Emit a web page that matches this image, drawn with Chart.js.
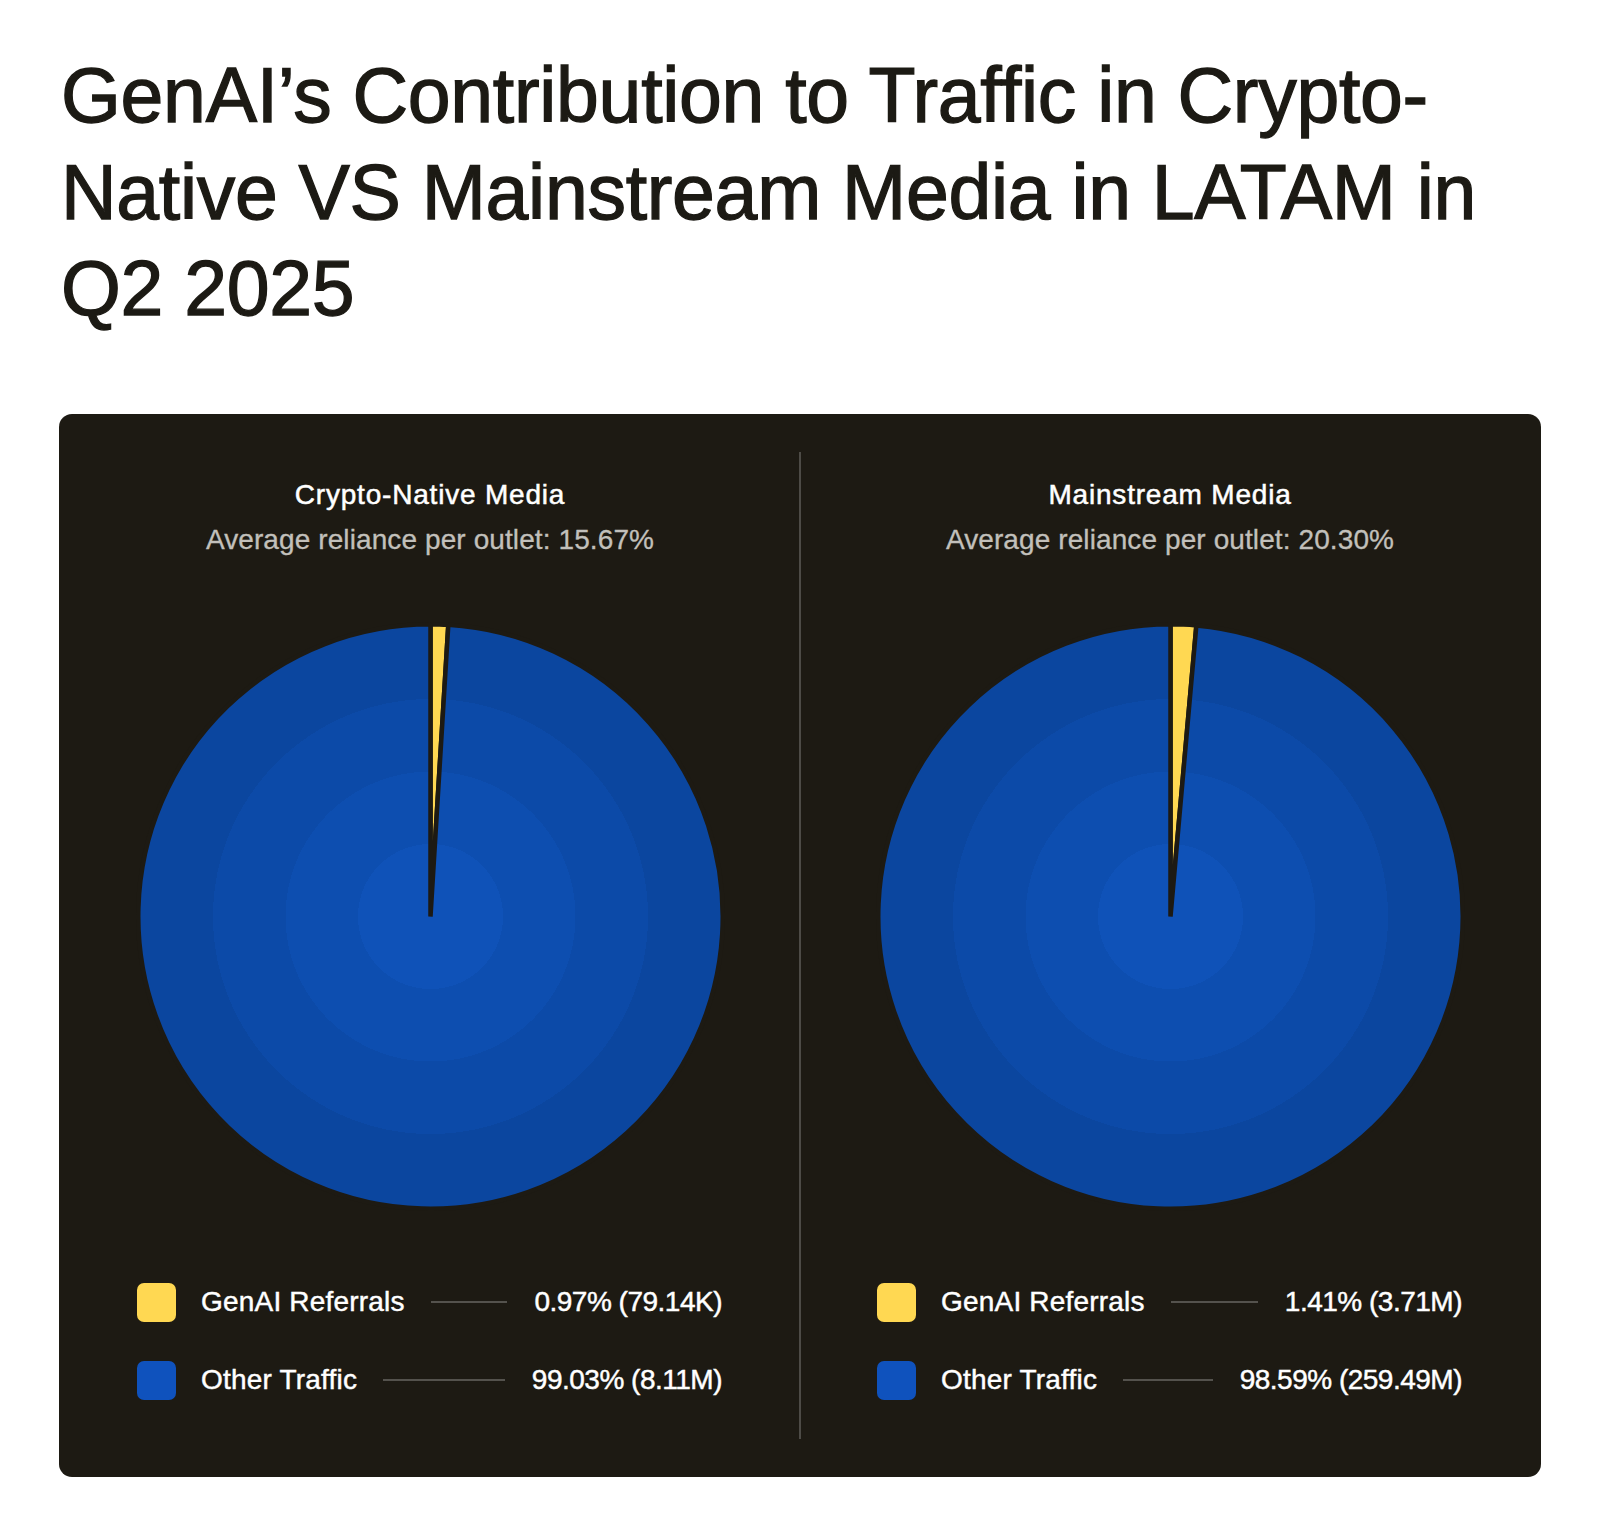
<!DOCTYPE html>
<html>
<head>
<meta charset="utf-8">
<script src="https://cdn.jsdelivr.net/npm/chart.js@4.4.1/dist/chart.umd.min.js"></script>
<style>
  html, body { margin: 0; padding: 0; background: #ffffff; }
  body { width: 1600px; height: 1529px; position: relative; overflow: hidden;
         font-family: "Liberation Sans", Arial, sans-serif; }
  #title { position: absolute; left: 61px; top: 47px; margin: 0; font-weight: 400;
           font-size: 77px; line-height: 96.5px; color: #1c1a14; letter-spacing: -0.3px; white-space: nowrap;
           -webkit-text-stroke: 1.3px #1c1a14; }
  .panel { position: absolute; left: 59px; top: 414px; width: 1482px; height: 1063px;
           background: #1d1a13; border-radius: 13px; }
  .divider { position: absolute; left: 799px; top: 452px; width: 2px; height: 987px; background: #4d4b46; }
  .ptitle { position: absolute; width: 700px; text-align: center; color: #ffffff; font-size: 28px;
            line-height: 34px; letter-spacing: 0.8px; -webkit-text-stroke: 0.5px #ffffff; white-space: nowrap; }
  .psub { position: absolute; width: 700px; text-align: center; color: #c2c0bb; font-size: 28px;
          line-height: 34px; white-space: nowrap; -webkit-text-stroke: 0.3px #c2c0bb; letter-spacing: 0.1px; }
  canvas.pie { position: absolute; }
  .lrow { position: absolute; height: 40px; display: flex; align-items: center; color: #ffffff;
          font-size: 28px; white-space: nowrap; -webkit-text-stroke: 0.45px #ffffff; }
  .sw { width: 39px; height: 39px; border-radius: 7px; flex: 0 0 auto; margin-right: 25px; }
  .lab { flex: 0 0 auto; letter-spacing: 0.2px; }
  .ln { flex: 1 1 auto; height: 2px; background: #54524d; margin: 0 27px 0 26px; }
  .val { flex: 0 0 auto; letter-spacing: -0.5px; }
</style>
</head>
<body>
<h1 id="title">GenAI’s Contribution to Traffic in Crypto-<br>Native VS Mainstream Media in LATAM in<br>Q2 2025</h1>
<div class="panel"></div>
<div class="divider"></div>
<div id="layer"></div>

<script>
// ---- data ----
const categories = ["GenAI Referrals", "Other Traffic"];
const panelTitles = ["Crypto-Native Media", "Mainstream Media"];
const avgReliance = [15.67, 20.30];
const cryptoShares = [0.97, 99.03];
const cryptoCounts = ["79.14K", "8.11M"];
const mainstreamShares = [1.41, 98.59];
const mainstreamCounts = ["3.71M", "259.49M"];

// ---- styles ----
const yellow = "#ffd852";
const swatchBlue = "#0f52bd";
const ringColors = ["#0f52b8", "#0d4eb0", "#0c4aa8", "#0b469f"]; // center -> outer
const panelBg = "#1d1a13";
const sliceBorder = 4.5;

const panels = [
  { title: panelTitles[0], avg: avgReliance[0], shares: cryptoShares, counts: cryptoCounts, cx: 430 },
  { title: panelTitles[1], avg: avgReliance[1], shares: mainstreamShares, counts: mainstreamCounts, cx: 1170 }
];
const cy = 916;
const visibleRadius = 290;
const canvasSize = Math.round(2 * visibleRadius + 2 * sliceBorder);

function ringGradient(chart) {
  const a = chart.chartArea;
  if (!a) return ringColors[3];
  const x = (a.left + a.right) / 2, y = (a.top + a.bottom) / 2;
  const r = (Math.min(a.right - a.left, a.bottom - a.top) - 2 * sliceBorder) / 2;
  const g = chart.ctx.createRadialGradient(x, y, 0, x, y, r);
  ringColors.forEach((c, i) => {
    g.addColorStop(i / 4, c);
    g.addColorStop((i + 1) / 4, c);
  });
  return g;
}

const layer = document.getElementById("layer");
panels.forEach(p => {
  const t = document.createElement("div");
  t.className = "ptitle"; t.textContent = p.title;
  t.style.left = (p.cx - 350) + "px"; t.style.top = "478px";
  layer.appendChild(t);
  const s = document.createElement("div");
  s.className = "psub"; s.textContent = "Average reliance per outlet: " + p.avg.toFixed(2) + "%";
  s.style.left = (p.cx - 350) + "px"; s.style.top = "523px";
  layer.appendChild(s);

  const cv = document.createElement("canvas");
  cv.className = "pie";
  cv.width = canvasSize; cv.height = canvasSize;
  cv.style.width = canvasSize + "px"; cv.style.height = canvasSize + "px";
  cv.style.left = (p.cx - canvasSize / 2) + "px"; cv.style.top = (cy - canvasSize / 2) + "px";
  layer.appendChild(cv);

  new Chart(cv, {
    type: "pie",
    data: {
      labels: categories,
      datasets: [{
        data: p.shares,
        backgroundColor: (ctx) => ctx.dataIndex === 0 ? yellow : ringGradient(ctx.chart),
        borderColor: panelBg,
        borderWidth: sliceBorder
      }]
    },
    options: {
      responsive: false,
      animation: false,
      events: [],
      layout: { padding: 0 },
      plugins: { legend: { display: false }, tooltip: { enabled: false } }
    }
  });

  const rowTops = [1282, 1360];
  categories.forEach((cat, i) => {
    const row = document.createElement("div");
    row.className = "lrow";
    row.style.left = (p.cx - 293) + "px";
    row.style.top = rowTops[i] + "px";
    row.style.width = "585px";
    const sw = document.createElement("div");
    sw.className = "sw"; sw.style.background = i === 0 ? yellow : swatchBlue;
    const lab = document.createElement("span");
    lab.className = "lab"; lab.textContent = cat;
    const ln = document.createElement("div"); ln.className = "ln";
    const val = document.createElement("span");
    val.className = "val"; val.textContent = p.shares[i].toFixed(2) + "% (" + p.counts[i] + ")";
    row.append(sw, lab, ln, val);
    layer.appendChild(row);
  });
});
</script>
</body>
</html>
